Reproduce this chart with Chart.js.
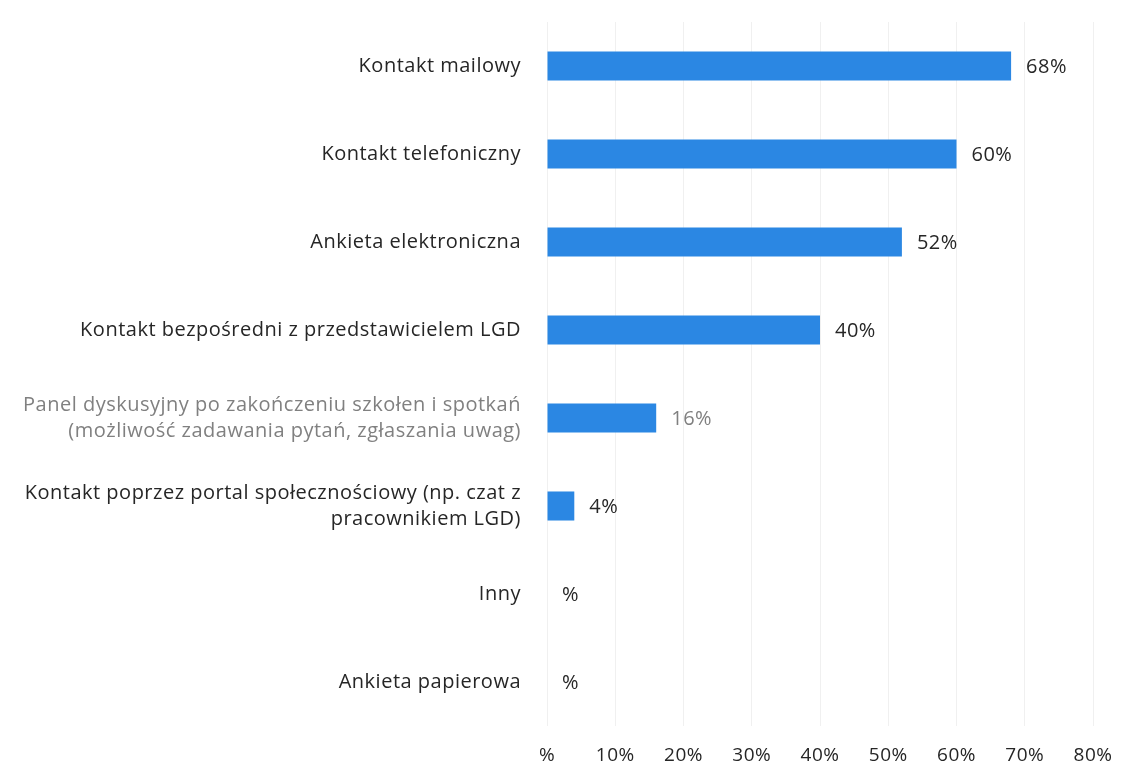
<!DOCTYPE html>
<html>
<head>
<meta charset="utf-8">
<script src="https://cdn.jsdelivr.net/npm/chart.js@4.4.1/dist/chart.umd.min.js"></script>
<style>
  body { margin: 0; background: #fff; }
  #wrap { width: 1124px; height: 783px; }
</style>
</head>
<body>
<div id="wrap"><canvas id="myChart" width="1124" height="783"></canvas></div>
<script>
// dane
const categories = [
  'Kontakt mailowy',
  'Kontakt telefoniczny',
  'Ankieta elektroniczna',
  'Kontakt bezpośredni z przedstawicielem LGD',
  ['Panel dyskusyjny po zakończeniu szkołen i spotkań', '(możliwość zadawania pytań, zgłaszania uwag)'],
  ['Kontakt poprzez portal społecznościowy (np. czat z', 'pracownikiem LGD)'],
  'Inny',
  'Ankieta papierowa'
];
const values = [68, 60, 52, 40, 16, 4, 0, 0];
const xTicks = [0, 10, 20, 30, 40, 50, 60, 70, 80];

const fontFamily = '"Open Sans", Lato, sans-serif';
const textColor = '#262626';
const greyColor = '#808080';

function pct(v) {
  return v === 0 ? '%' : v + '%';
}

// lekko rozstrzelony tekst, jak w oryginale
const spacing = {
  id: 'spacing',
  beforeLayout(chart) { chart.ctx.letterSpacing = '0.5px'; },
  beforeDraw(chart) { chart.ctx.letterSpacing = '0.5px'; }
};

// etykiety z wartościami obok słupków
const valueLabels = {
  id: 'valueLabels',
  afterDatasetsDraw(chart) {
    const ctx = chart.ctx;
    const meta = chart.getDatasetMeta(0);
    ctx.save();
    ctx.font = '20px ' + fontFamily;
    ctx.textBaseline = 'middle';
    ctx.textAlign = 'left';
    meta.data.forEach(function(bar, i) {
      ctx.fillStyle = i === 4 ? greyColor : textColor;
      ctx.fillText(pct(values[i]), bar.x + 15, bar.y + 1);
    });
    ctx.restore();
  }
};

const ctx = document.getElementById('myChart').getContext('2d');
const myChart = new Chart(ctx, {
  type: 'bar',
  data: {
    labels: categories,
    datasets: [{
      data: values,
      backgroundColor: '#2b87e3',
      borderWidth: 0,
      barPercentage: 0.66,
      categoryPercentage: 0.5
    }]
  },
  options: {
    indexAxis: 'y',
    responsive: false,
    animation: false,
    layout: {
      padding: { top: 22, right: 31, bottom: 0, left: 0 }
    },
    plugins: {
      legend: { display: false },
      tooltip: { enabled: false }
    },
    scales: {
      x: {
        min: 0,
        max: 80,
        afterBuildTicks: function(scale) {
          scale.ticks = xTicks.map(v => ({ value: v }));
        },
        afterFit: function(scale) {
          scale.height = 57;
          scale.paddingLeft = 0;
          scale.paddingRight = 0;
        },
        border: { display: false },
        grid: {
          color: 'rgba(0,0,0,0.06)',
          drawTicks: false
        },
        ticks: {
          padding: 18,
          color: textColor,
          font: { family: fontFamily, size: 19 },
          callback: function(value) { return pct(value); }
        }
      },
      y: {
        border: { display: false },
        grid: { display: false },
        afterFit: function(scale) {
          scale.width = 547;
          scale.paddingTop = 0;
          scale.paddingBottom = 0;
        },
        ticks: {
          padding: 18,
          color: function(c) { return c.index === 4 ? greyColor : textColor; },
          font: { family: fontFamily, size: 20, lineHeight: 1.3 }
        }
      }
    }
  },
  plugins: [spacing, valueLabels]
});
</script>
</body>
</html>
